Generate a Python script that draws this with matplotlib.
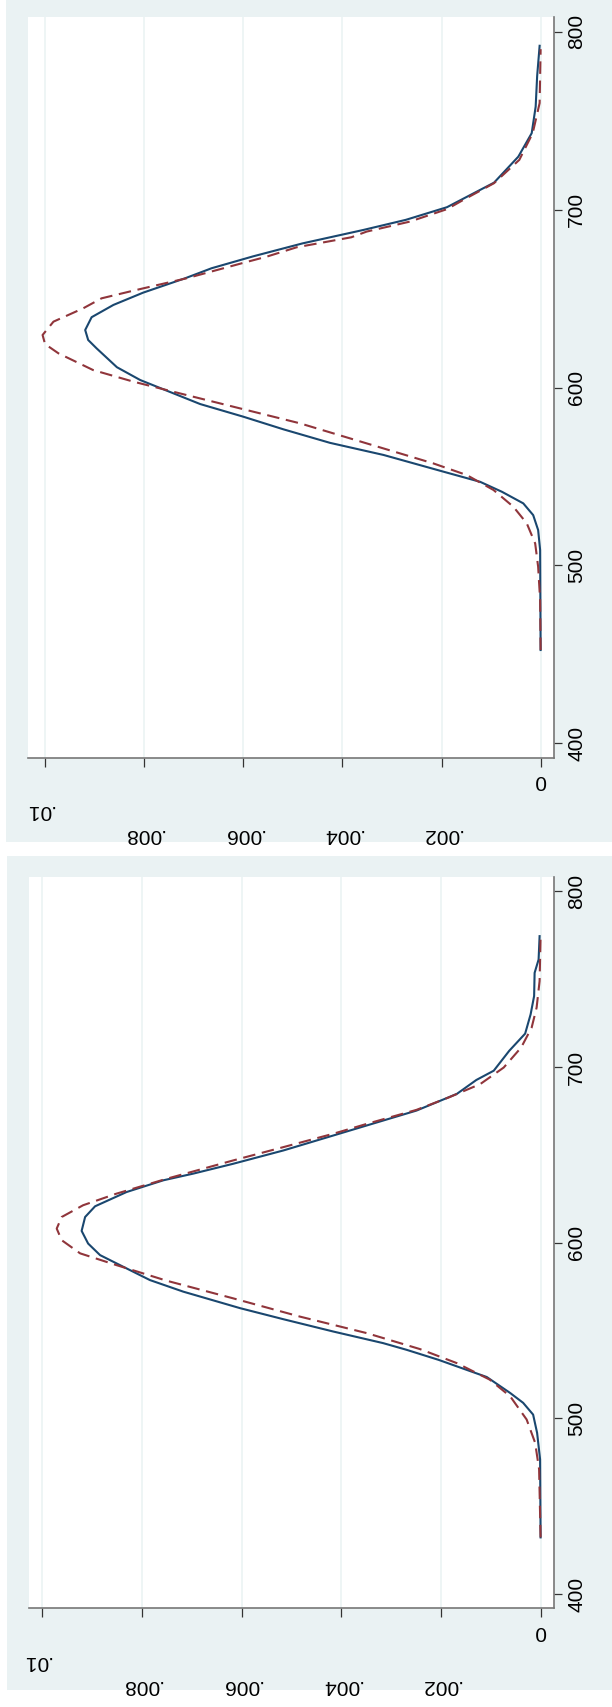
import matplotlib
matplotlib.use('Agg')
import matplotlib.pyplot as plt
from matplotlib.patches import Rectangle

# 위쪽 패널: 커널 밀도 (실선)
top_kd_score = [452.5, 508.7, 519.9, 528.3, 534.9, 541.4, 547.0, 552.7, 562.1, 568.9,
                576.5, 583.6, 590.7, 604.2, 611.4, 622.0, 626.7, 632.3, 639.5, 646.4,
                653.3, 661.4, 667.0, 673.7, 681.0, 688.5, 694.2, 701.3, 715.1, 729.7,
                742.9, 757.8, 775.0, 792.0]
top_kd_dens = [0.0, 0.00001, 0.00005, 0.00015, 0.00035, 0.00078, 0.00122, 0.00196, 0.00317, 0.00425,
               0.00519, 0.00600, 0.00687, 0.00808, 0.00855, 0.00896, 0.00913, 0.00919, 0.00906, 0.00862,
               0.00802, 0.00717, 0.00664, 0.00580, 0.00480, 0.00358, 0.00272, 0.00189, 0.00094, 0.00045,
               0.00018, 0.00010, 0.00007, 0.00002]
# 위쪽 패널: 정규분포 (점선)
top_nm_score = [452.5, 480.6, 499.3, 512.4, 523.7, 533.0, 542.4, 550.8, 557.4, 568.6,
                579.9, 589.2, 596.7, 603.3, 609.8, 619.2, 624.4, 629.5, 637.0, 644.5,
                650.1, 654.4, 661.4, 669.8, 673.5, 678.8, 684.4, 687.6, 693.2, 700.2,
                705.4, 714.8, 727.9, 742.9, 759.8, 790.1]
top_nm_dens = [0.0, 0.00001, 0.00005, 0.00011, 0.00028, 0.00055, 0.00095, 0.00149, 0.00217, 0.00351,
               0.00486, 0.00620, 0.00728, 0.00822, 0.00903, 0.00973, 0.01000, 0.01005, 0.00983, 0.00923,
               0.00886, 0.00822, 0.00714, 0.00603, 0.00553, 0.00492, 0.00382, 0.00351, 0.00264, 0.00189,
               0.00156, 0.00094, 0.00043, 0.00016, 0.00002, 0.0]

# 아래쪽 패널
bot_kd_score = [432.2, 476.6, 491.7, 502.1, 508.8, 514.4, 523.5, 533.3, 539.0, 542.8,
                549.4, 556.4, 562.7, 572.1, 578.7, 587.2, 592.9, 599.5, 606.7, 614.6,
                620.7, 628.8, 635.5, 639.3, 644.9, 652.5, 661.0, 666.7, 675.2, 684.7,
                692.6, 697.9, 709.2, 719.0, 730.0, 740.4, 753.6, 761.2, 774.5]
bot_kd_dens = [0.0, 0.00001, 0.00007, 0.00015, 0.00035, 0.00061, 0.00108, 0.00205, 0.00269, 0.00316,
               0.00416, 0.00516, 0.00603, 0.00717, 0.00784, 0.00844, 0.00884, 0.00908, 0.00921, 0.00914,
               0.00894, 0.00831, 0.00757, 0.00697, 0.00617, 0.00516, 0.00416, 0.00349, 0.00249, 0.00168,
               0.00129, 0.00094, 0.00063, 0.00031, 0.00020, 0.00013, 0.00012, 0.00004, 0.00002]
bot_nm_score = [432.2, 471.0, 486.1, 499.3, 512.5, 522.0, 531.4, 539.4, 548.5, 557.9,
                568.3, 578.3, 587.2, 593.9, 601.4, 608.0, 614.6, 621.3, 627.9, 636.4,
                646.8, 654.4, 662.0, 667.6, 675.6, 682.7, 690.3, 699.7, 711.1, 722.4,
                733.8, 748.9, 774.5]
bot_nm_dens = [0.0, 0.00003, 0.00011, 0.00028, 0.00061, 0.00102, 0.00168, 0.00242, 0.00349, 0.00483,
               0.00617, 0.00750, 0.00851, 0.00924, 0.00961, 0.00971, 0.00961, 0.00918, 0.00851, 0.00750,
               0.00617, 0.00516, 0.00416, 0.00349, 0.00249, 0.00184, 0.00121, 0.00074, 0.00039, 0.00018,
               0.00008, 0.00002, 0.0]

density_ticks = [0, .002, .004, .006, .008, .01]
density_labels = ['0', '.002', '.004', '.006', '.008', '.01']
score_ticks = [400, 500, 600, 700, 800]
score_labels = ['400', '500', '600', '700', '800']

W, H = 612, 1707
bg = '#eaf2f3'
navy = '#1a476f'
maroon = '#90353b'
plt.rcParams['font.family'] = ['Liberation Sans', 'DejaVu Sans']

fig = plt.figure(figsize=(W / 100, H / 100), dpi=100)


def px(x0, y0, x1, y1):
    # 픽셀 (위에서부터) -> figure 비율
    return [x0 / W, 1 - y1 / H, (x1 - x0) / W, (y1 - y0) / H]


for r in [(6, 0, 612, 842), (7, 856, 612, 1690)]:
    b = px(*r)
    fig.add_artist(Rectangle((b[0], b[1]), b[2], b[3], transform=fig.transFigure,
                             facecolor=bg, edgecolor='none', zorder=0))


def panel(rect, kd_s, kd_d, nm_s, nm_d, xlim):
    ax = fig.add_axes(px(*rect))
    ax.set_facecolor('white')
    for d in density_ticks:
        ax.axvline(d, color=bg, lw=1.1, zorder=0)
    ax.plot(kd_d, kd_s, color=navy, lw=1.5)
    ax.plot(nm_d, nm_s, color=maroon, lw=1.5, dashes=(6, 3.2))
    ax.set_xlim(*xlim)
    ax.set_ylim(392, 808)

    for s in ['left', 'top']:
        ax.spines[s].set_visible(False)
    for s in ['right', 'bottom']:
        ax.spines[s].set_color('#777777')
        ax.spines[s].set_linewidth(1.2)

    ax.yaxis.tick_right()
    ax.set_yticks(score_ticks)
    ax.set_yticklabels(score_labels, rotation=90, va='center')
    ax.tick_params(axis='y', length=5.8, width=0.9, color='#333333', pad=3.6, labelsize=15)

    ax.set_xticks(density_ticks)
    ax.tick_params(axis='x', length=6.5, width=0.9, color='#333333', labelbottom=False)
    # 뒤집힌 밀도 라벨
    for d, lab in zip(density_ticks, density_labels):
        dx = 0
        if lab == '0':
            off = 9.8
        elif lab == '.01':
            off = 31.4
            dx = -4
        else:
            off = 48.7
        ax.annotate(lab, xy=(d, 0), xycoords=('data', 'axes fraction'),
                    xytext=(dx, -off), textcoords='offset points',
                    rotation=180, ha='center', va='top', fontsize=15)
    return ax


panel((28.2, 17.3, 554.2, 757.7), top_kd_score, top_kd_dens, top_nm_score, top_nm_dens,
      (0.01034, -0.000274))
panel((29.3, 877.3, 554.2, 1608.0), bot_kd_score, bot_kd_dens, bot_nm_score, bot_nm_dens,
      (0.01026, -0.000273))

fig.savefig('out.png', dpi=100)
